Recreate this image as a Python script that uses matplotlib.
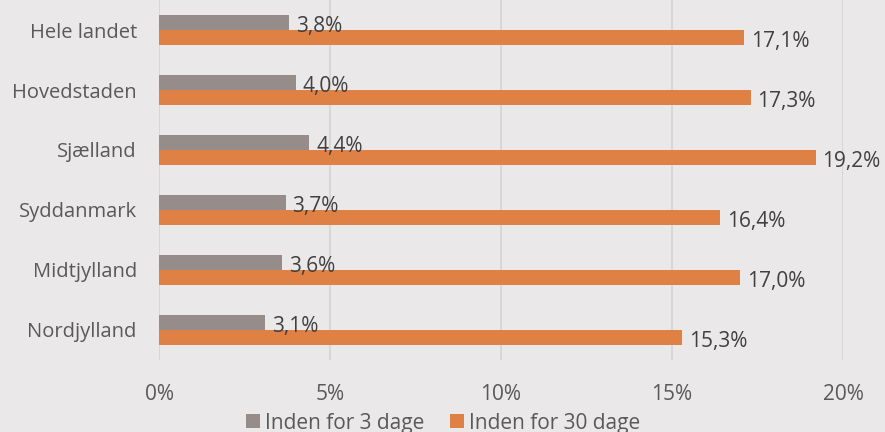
import matplotlib
matplotlib.use("Agg")
import matplotlib.pyplot as plt
import numpy as np
from matplotlib.ticker import FuncFormatter

categories = ["Hele landet", "Hovedstaden", "Sjælland", "Syddanmark", "Midtjylland", "Nordjylland"]
within_3 = [3.8, 4.0, 4.4, 3.7, 3.6, 3.1]
within_30 = [17.1, 17.3, 19.2, 16.4, 17.0, 15.3]
series_names = ["Inden for 3 dage", "Inden for 30 dage"]
xticks = [0, 5, 10, 15, 20]

bg = "#EBE8E9"
c3 = "#968D8B"
c30 = "#DF8045"
txt = "#404040"
txt2 = "#595959"

plt.rcParams['font.family'] = ['Open Sans', 'DejaVu Sans']

fig = plt.figure(figsize=(8.85, 4.32), dpi=100, facecolor=bg)
ax = fig.add_axes([159/885, 1-360/432, (843-159)/885, 360/432])
ax.set_facecolor(bg)

y = np.arange(len(categories))
h = 0.25
b1 = ax.barh(y - h/2, within_3, height=h, color=c3, label=series_names[0], zorder=3)
b2 = ax.barh(y + h/2, within_30, height=h, color=c30, label=series_names[1], zorder=3)

for bars, vals in ((b1, within_3), (b2, within_30)):
    for r, v in zip(bars, vals):
        ax.text(r.get_width() + 0.2, r.get_y() + r.get_height()/2 + 0.03,
                f"{v:.1f}%".replace(".", ","), va="center_baseline", ha="left",
                fontsize=15, color=txt, zorder=4)

ax.set_ylim(len(categories) - 0.5, -0.5)
ax.set_xlim(0, 20)
ax.set_xticks(xticks)
ax.xaxis.set_major_formatter(FuncFormatter(lambda v, p: f"{v:.0f}%"))
ax.set_yticks(y)
ax.set_yticklabels(categories)
ax.tick_params(axis="x", length=0, pad=17, labelsize=15, labelcolor=txt2)
ax.tick_params(axis="y", length=0, pad=16, labelsize=14.5, labelcolor=txt2)
ax.grid(axis="x", color="#D6D3D4", linewidth=1.2, zorder=0)
for s in ax.spines.values():
    s.set_visible(False)

leg = fig.legend(handles=[b1, b2], labels=series_names, loc="center",
                 bbox_to_anchor=(443/885, 1-423/432), ncol=2, frameon=False,
                 fontsize=15, handlelength=0.68, handleheight=0.68, handletextpad=0.25,
                 columnspacing=1.2, labelcolor=txt2, borderpad=0)

fig.savefig("out.png", dpi=100, facecolor=bg)
